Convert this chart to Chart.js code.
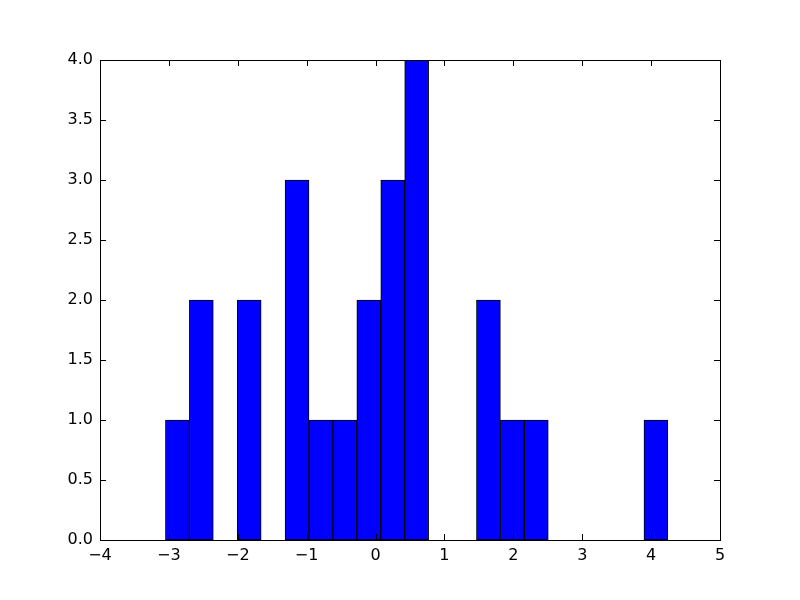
<!DOCTYPE html>
<html>
<head>
<meta charset="utf-8">
<script src="https://cdn.jsdelivr.net/npm/chart.js@4"></script>
<style>
    html, body { margin: 0; padding: 0; background: #fff; }
    #wrap { width: 800px; height: 600px; }
</style>
</head>
<body>
<div id="wrap"><canvas id="histChart" width="800" height="600"></canvas></div>
<script>
// histogram bins (left edge of first bin, bin width) and counts
const binStart = -3.05;
const binWidth = 0.3473;
const binCounts = [1, 2, 0, 2, 0, 3, 1, 1, 2, 3, 4, 0, 0, 2, 1, 1, 0, 0, 0, 0, 1];
const xTicks = [-4, -3, -2, -1, 0, 1, 2, 3, 4, 5];
const yTicks = [0, 0.5, 1, 1.5, 2, 2.5, 3, 3.5, 4];

const points = binCounts.map((c, i) => ({ x: binStart + binWidth * (i + 0.5), y: c }));

// matplotlib classic look: frame box and inward ticks on all four sides
const frameTicks = {
    id: 'frameTicks',
    afterDraw(chart) {
        const { ctx, chartArea: a, scales } = chart;
        ctx.save();
        ctx.strokeStyle = '#000';
        ctx.lineWidth = 1;
        ctx.beginPath();
        xTicks.forEach(v => {
            const px = Math.round(scales.x.getPixelForValue(v)) + 0.5;
            ctx.moveTo(px, a.bottom); ctx.lineTo(px, a.bottom - 6);
            ctx.moveTo(px, a.top); ctx.lineTo(px, a.top + 6);
        });
        yTicks.forEach(v => {
            const py = Math.round(scales.y.getPixelForValue(v)) + 0.5;
            ctx.moveTo(a.left, py); ctx.lineTo(a.left + 6, py);
            ctx.moveTo(a.right, py); ctx.lineTo(a.right - 6, py);
        });
        ctx.stroke();
        ctx.strokeRect(Math.round(a.left) + 0.5, Math.round(a.top) + 0.5,
            Math.round(a.right - a.left), Math.round(a.bottom - a.top));
        ctx.restore();
    }
};

const fmtMinus = v => (v < 0 ? '\u2212' + Math.abs(v) : String(v));

new Chart(document.getElementById('histChart'), {
    type: 'bar',
    data: {
        datasets: [{
            data: points,
            backgroundColor: '#0000ff',
            borderColor: '#000000',
            borderWidth: 1,
            borderSkipped: false,
            barPercentage: 1,
            categoryPercentage: 1,
        }]
    },
    options: {
        responsive: false,
        animation: false,
        devicePixelRatio: 1,
        layout: { padding: { left: 0, top: 60, right: 80, bottom: 0 } },
        plugins: {
            legend: { display: false },
            tooltip: { enabled: false },
        },
        scales: {
            x: {
                type: 'linear',
                min: -4,
                max: 5,
                offset: false,
                afterFit: (scale) => { scale.height = 60; },
                afterBuildTicks: (scale) => { scale.ticks = xTicks.map(v => ({ value: v })); },
                grid: { display: false, drawTicks: false, offset: false },
                border: { display: false },
                ticks: {
                    color: '#000',
                    padding: 6,
                    maxRotation: 0,
                    font: { family: 'DejaVu Sans', size: 16 },
                    callback: (v) => fmtMinus(v),
                }
            },
            y: {
                min: 0,
                max: 4,
                afterFit: (scale) => { scale.width = 100; },
                afterBuildTicks: (scale) => { scale.ticks = yTicks.map(v => ({ value: v })); },
                grid: { display: false, drawTicks: false },
                border: { display: false },
                ticks: {
                    color: '#000',
                    padding: 7,
                    font: { family: 'DejaVu Sans', size: 16 },
                    callback: (v) => Number(v).toFixed(1),
                }
            }
        }
    },
    plugins: [frameTicks]
});
</script>
</body>
</html>
